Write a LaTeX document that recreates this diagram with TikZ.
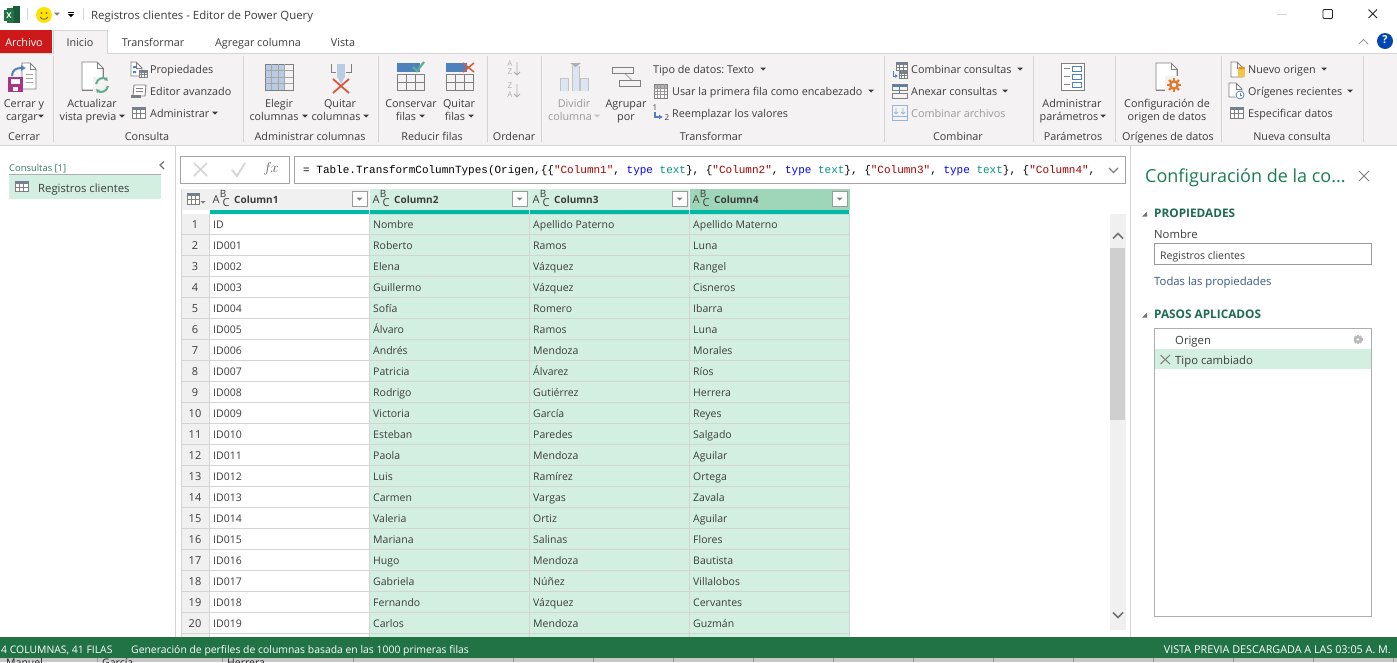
\documentclass[tikz,border=0pt]{standalone}
\usepackage{fontspec}
\usetikzlibrary{arrows.meta}
\setmainfont{Open Sans}
\newfontfamily\mono{Liberation Mono}
\AtBeginDocument{\frenchspacing}
\definecolor{rbg}{HTML}{F4F2F3}
\definecolor{rline}{HTML}{D4D4D4}
\definecolor{txt}{HTML}{3C3C3C}
\definecolor{gtxt}{HTML}{9A9A9A}
\definecolor{sel}{HTML}{D3EFE1}
\definecolor{hdr}{HTML}{F0F0F0}
\definecolor{hdrsel}{HTML}{9FD5B8}
\definecolor{teal}{HTML}{00B8A3}
\definecolor{xlgreen}{HTML}{217346}
\definecolor{icog}{HTML}{7F7F7F}
\definecolor{icob}{HTML}{4F81BD}
\definecolor{icolb}{HTML}{B8CCE4}
\definecolor{icor}{HTML}{D9573C}
\definecolor{orng}{HTML}{E07B2E}
\definecolor{headg}{HTML}{1E6B52}
\definecolor{refr}{HTML}{5FAE8E}
\tikzset{
 x=1pt,y=-1pt,
 tl/.style={anchor=mid west,inner sep=0pt,yshift=-1.5pt,text=txt,font=\fontsize{10.8}{12}\selectfont},
 tc/.style={anchor=mid,inner sep=0pt,yshift=-1.5pt,text=txt,font=\fontsize{10.8}{12}\selectfont},
 rib/.style={tc},
 ribg/.style={tc,text=gtxt},
 pane/.style={tl,font=\fontsize{11.3}{13}\selectfont},
 cell/.style={anchor=mid west,inner sep=0pt,yshift=-1.5pt,text=txt,font=\fontsize{10.5}{12}\selectfont},
 stat/.style={anchor=mid west,inner sep=0pt,yshift=-1.5pt,text=white,font=\fontsize{10.4}{12}\selectfont},
 icoline/.style={draw=icog,line width=0.9pt},
}
% small drop-down triangle
\newcommand\ddn[3][txt]{\fill[#1] (#2-3,#3-1.5) -- (#2+3,#3-1.5) -- (#2,#3+1.5) -- cycle;}
% page with folded corner: x y w h
\newcommand\docic[4]{\draw[icoline,fill=white,line join=miter] (#1,#2) -- (#1+#3-6,#2) -- (#1+#3,#2+6) -- (#1+#3,#2+#4) -- (#1,#2+#4) -- cycle; \draw[icoline] (#1+#3-6,#2) -- (#1+#3-6,#2+6) -- (#1+#3,#2+6);}
% small table: x y w h
\newcommand\tabic[4]{\fill[white] (#1,#2) rectangle (#1+#3,#2+#4);
 \draw[icoline,line width=0.7pt] (#1,#2) rectangle (#1+#3,#2+#4);
 \fill[icog!70!icob] (#1,#2) rectangle (#1+#3,#2+3);
 \draw[icoline,line width=0.5pt] (#1+#3/3,#2) -- (#1+#3/3,#2+#4) (#1+2*#3/3,#2) -- (#1+2*#3/3,#2+#4) (#1,#2+#4/2+1) -- (#1+#3,#2+#4/2+1);}
% gear: x y r colour
\newcommand\gearic[5][white]{\foreach \aa in {0,45,...,315}{\draw[#5,line width=2.4pt] (#2,#3) -- ++(\aa:#4);}
 \fill[#5] (#2,#3) circle (#4*0.72); \fill[#1] (#2,#3) circle (#4*0.32);}
% abc type icon
\newcommand\abcic[1]{\node[anchor=mid,inner sep=0pt,text=txt,font=\fontsize{11}{11}\selectfont] at (#1+4,201) {A};
 \node[anchor=mid,inner sep=0pt,text=txt,font=\fontsize{10}{10}\selectfont] at (#1+11,195) {B};
 \node[anchor=mid,inner sep=0pt,text=txt,font=\fontsize{11}{11}\selectfont] at (#1+14,203.5) {C};}
\begin{document}
\begin{tikzpicture}
\useasboundingbox (0,0) rectangle (1397,662);
\fill[white] (0,0) rectangle (1397,662);

% ---------- title bar
\fill[xlgreen] (7,8) rectangle (20,23);
\fill[xlgreen!80!black] (13,6) rectangle (20,23);
\fill[xlgreen] (4,10) rectangle (14,21);
\node[anchor=mid,inner sep=0pt,text=white,font=\fontsize{8}{9}\bfseries\selectfont] at (9,15.5) {X};
\draw[rline] (27,8) -- (27,20) (83,8) -- (83,20);
\fill[yellow!85!orange] (44,15) circle (8);
\fill[black!70] (41.5,13) circle (0.9) (46.5,13) circle (0.9);
\draw[black!70,line width=0.7pt] (40,17) .. controls (42,20) and (46,20) .. (48,17);
\ddn[icog]{57}{14}
\fill[black] (68,14) -- (74,14) -- (71,17) -- cycle;
\draw[black,line width=0.8pt] (68,12) -- (74,12);
\node[tl,font=\fontsize{11.4}{13}\selectfont] (title) at (91,15) {Registros clientes - Editor de Power Query};
\draw[rline,line width=0.8pt] (1277,14) -- (1287,14);
\draw[black!85,line width=0.9pt,rounded corners=1pt] (1323,9.5) rectangle (1332.5,18.5);
\draw[black!85,line width=0.9pt] (1368.5,9.5) -- (1377,18) (1377,9.5) -- (1368.5,18);
\draw[gtxt,line width=0.9pt] (1359,44) -- (1363.5,39.5) -- (1368,44);
\fill[blue!60!cyan!70!black] (1385,41) circle (8);
\node[anchor=mid,inner sep=0pt,text=white,font=\fontsize{11}{12}\bfseries\selectfont] at (1385,41) {?};

% ---------- tabs
\fill[rbg] (0,53) rectangle (1397,145);
\draw[rline] (0,53.5) -- (1397,53.5);
\draw[rline] (0,145.5) -- (1397,145.5);
\fill[red!78!black!90] (0,30) rectangle (52,53);
\draw[rline,fill=rbg] (53,54) -- (53,30.5) -- (107.5,30.5) -- (107.5,54);
\fill[rbg] (53.5,52) rectangle (107,55);
\node[tc,text=white] (archivo) at (24,42) {Archivo};
\node[tc] at (80,42) {Inicio};
\node[tc] at (153,42) {Transformar};
\node[tc] at (258,42) {Agregar columna};
\node[tc] at (343,42) {Vista};

% group separators
\foreach \sx in {53,243,378,487,541,884,1033,1115,1221,1363}{\draw[rline] (\sx.5,56) -- (\sx.5,142);}

% ---------- ribbon text
\node[rib] at (24,103) {Cerrar y}; \node[rib] at (22,116) {cargar}; \ddn{41}{116}
\node[rib] at (24,136) {Cerrar};
\node[rib] at (92,103) {Actualizar}; \node[rib] at (88,116) {vista previa}; \ddn{122}{116}
\node[tl] at (150,69) {Propiedades};
\node[tl] at (150,91) {Editor avanzado};
\node[tl] at (150,113) {Administrar}; \ddn{215}{113}
\node[rib] at (147,136) {Consulta};
\node[rib] at (279,103) {Elegir}; \node[rib] at (274,116) {columnas}; \ddn{305}{116}
\node[rib] at (340,103) {Quitar}; \node[rib] at (336,116) {columnas}; \ddn{366}{116}
\node[rib] at (310,136) {Administrar columnas};
\node[rib] at (411,103) {Conservar}; \node[rib] at (406,116) {filas}; \ddn{422}{116}
\node[rib] at (459,103) {Quitar}; \node[rib] at (455,116) {filas}; \ddn{471}{116}
\node[rib] at (432,136) {Reducir filas};
\node[rib] at (514,136) {Ordenar};
\node[ribg] at (574,103) {Dividir}; \node[ribg] at (570,116) {columna}; \ddn[gtxt!60]{597}{116}
\node[rib] at (626,103) {Agrupar}; \node[rib] at (626,116) {por};
\node[tl] at (653,69) {Tipo de datos: Texto}; \ddn{763}{69}
\node[tl] at (672,91) {Usar la primera fila como encabezado}; \ddn{871}{91}
\node[tl] at (672,113) {Reemplazar los valores};
\node[rib] at (711,136) {Transformar};
\node[tl] at (911,69) {Combinar consultas}; \ddn{1020}{69}
\node[tl] at (911,91) {Anexar consultas}; \ddn{1005}{91}
\node[tl,text=gtxt] at (911,113) {Combinar archivos};
\node[rib] at (958,136) {Combinar};
\node[rib] at (1072,103) {Administrar}; \node[rib] at (1069,116) {parámetros}; \ddn{1103}{116}
\node[rib] at (1073,136) {Parámetros};
\node[rib] at (1167,103) {Configuración de}; \node[rib] at (1167,116) {origen de datos};
\node[rib] at (1168,136) {Orígenes de datos};
\node[tl] at (1248,69) {Nuevo origen}; \ddn{1324}{69}
\node[tl] at (1248,91) {Orígenes recientes}; \ddn{1350}{91}
\node[tl] at (1248,113) {Especificar datos};
\node[rib] at (1292,136) {Nueva consulta};

% ---------- ribbon icons
% cerrar y cargar
\docic{22}{63}{14}{26}
\draw[icog!70,line width=0.6pt] (26,74) -- (33,74) (26,78) -- (33,78) (26,82) -- (33,82);
\draw[-{Latex[length=5pt,width=7pt]},icob,line width=2pt] (12,76) .. controls (12,70) and (16,68) .. (26,68);
\fill[violet!60!purple!80] (8,77) rectangle (23,92);
\fill[white] (11,79) rectangle (20,84);
\fill[white] (13,87) rectangle (18,91);
% actualizar
\docic{82}{62}{21}{28}
\fill[rbg] (93,77) rectangle (110,93);
\draw[icog,line width=0.9pt] (82,90) -- (93,90) (103,68) -- (103,77);
\draw[-{Latex[length=3.5pt,width=5pt]},refr,line width=2pt] (96,84) .. controls (97,78) and (104,77) .. (108,81);
\draw[-{Latex[length=3.5pt,width=5pt]},refr,line width=2pt] (108,86) .. controls (107,92) and (100,93) .. (96,89);
% propiedades
\docic{131}{62}{11}{14}
\fill[icob] (133,66) rectangle (136,68) (133,71) rectangle (136,73);
\tabic{139}{70}{8}{7}
% editor
\draw[icoline,fill=white] (134,85) -- (146,85) -- (145,96) -- (133,96) -- cycle;
\draw[icog,line width=0.5pt] (136,88) -- (143,88) (136,91) -- (143,91);
\fill[icog] (131,95) rectangle (141,98);
% administrar
\tabic{132}{107}{13}{11}
% elegir columnas
\fill[icolb] (265,64) rectangle (284,90);
\draw[icog,line width=0.8pt] (265,64) rectangle (293,90);
\foreach \gx in {271.5,278,284.5}{\draw[icog!70,line width=0.5pt] (\gx,64) -- (\gx,90);}
\foreach \gy in {70.5,77,83.5}{\draw[icog!70,line width=0.5pt] (265,\gy) -- (293,\gy);}
% quitar columnas
\draw[icog,line width=0.8pt] (331,64) -- (331,72) -- (336,72);
\draw[icog,line width=0.8pt] (351,64) -- (351,72) -- (346,72);
\fill[icolb] (337,64) rectangle (345,78);
\fill[icolb] (337,76) -- (345,76) -- (341,84) -- cycle;
\draw[icor,line width=1.8pt] (333,79) -- (349,93) (349,79) -- (333,93);
% conservar filas
\fill[icob] (397,63) rectangle (420,72);
\draw[icog,line width=0.8pt] (397.5,74) rectangle (424.5,90.5);
\draw[icog,line width=0.7pt] (406.5,74) -- (406.5,90.5) (415.5,74) -- (415.5,90.5) (397.5,82) -- (424.5,82);
\draw[refr,line width=2.2pt] (413,67) -- (417,71) -- (424,62);
% quitar filas
\fill[icob] (446,63) rectangle (467,72);
\draw[icog,line width=0.8pt] (446.5,74) rectangle (473.5,90.5);
\draw[icog,line width=0.7pt] (455.5,74) -- (455.5,90.5) (464.5,74) -- (464.5,90.5) (446.5,82) -- (473.5,82);
\draw[icor,line width=1.5pt] (463,63) -- (474,72) (474,63) -- (463,72);
% sort icons
\node[anchor=mid,inner sep=0pt,text=gtxt!80,font=\fontsize{8}{8}\selectfont] at (510,64) {A};
\node[anchor=mid,inner sep=0pt,text=gtxt!80,font=\fontsize{8}{8}\selectfont] at (510,72) {Z};
\draw[gtxt!80,line width=0.8pt] (517,62) -- (517,75) (514,72) -- (517,75) -- (520,72);
\node[anchor=mid,inner sep=0pt,text=gtxt!80,font=\fontsize{8}{8}\selectfont] at (510,86) {Z};
\node[anchor=mid,inner sep=0pt,text=gtxt!80,font=\fontsize{8}{8}\selectfont] at (510,95) {A};
\draw[gtxt!80,line width=0.8pt] (517,84) -- (517,97) (514,94) -- (517,97) -- (520,94);
% dividir columna
\fill[icolb!50] (560,79) rectangle (568,91) (580,79) rectangle (588,91) (572,64) rectangle (579,91);
\draw[gtxt!60,line width=0.6pt] (560,91) -- (560,78) -- (568,78) -- (568,91) (580,91) -- (580,78) -- (588,78) -- (588,91) (572,66) -- (572,91) (579,66) -- (579,91);
\fill[gtxt!80] (570,63) -- (581,63) -- (575.5,67) -- cycle;
% agrupar
\draw[icog,line width=0.8pt] (612.5,67.5) rectangle (633,73.5);
\draw[icog,line width=0.8pt] (619.5,80.5) rectangle (640,86.5);
\draw[icog,line width=0.7pt] (625,73.5) -- (632,80.5);
% usar primera fila
\fill[white] (654,84) rectangle (667,98);
\fill[icog!60] (654,84) rectangle (667,88);
\draw[icog,line width=0.7pt] (654,84) rectangle (667,98);
\foreach \gx in {657.3,660.5,663.8}{\draw[icog!80,line width=0.4pt] (\gx,84) -- (\gx,98);}
\foreach \gy in {88,91.3,94.6}{\draw[icog!80,line width=0.4pt] (654,\gy) -- (667,\gy);}
% reemplazar
\node[anchor=mid,inner sep=0pt,text=txt,font=\fontsize{8}{8}\selectfont] at (655,108) {1};
\node[anchor=mid,inner sep=0pt,text=txt,font=\fontsize{8}{8}\selectfont] at (667,118) {2};
\draw[-{Latex[length=4pt,width=5pt]},icob,line width=1.2pt] (655,112) -- (655,117) -- (663,117);
% combinar consultas
\tabic{896}{62}{11}{8}
\tabic{899}{71}{8}{7}
\draw[-{Latex[length=3pt,width=4pt]},icob,line width=1pt] (893,71) -- (893,76) -- (898,76);
% anexar
\fill[icob] (892,84) rectangle (907,87);
\draw[icog,line width=0.7pt] (892,84) rectangle (907,90) (892,93) rectangle (907,98);
\draw[icob,line width=0.9pt] (899.5,87) -- (899.5,94);
% combinar archivos
\draw[icob!60,line width=0.8pt] (892.5,105.5) rectangle (907,120);
\draw[icob!60,line width=0.7pt] (892.5,116) -- (907,116);
\draw[icob!60,line width=0.7pt] (896,108) -- (896,114) (903,108) -- (903,114) (894,112) -- (896,114) -- (898,112) (901,112) -- (903,114) -- (905,112);
% parametros
\draw[icog,line width=0.8pt,fill=white] (1061.5,63.5) rectangle (1084,90.5);
\foreach \py in {66,74,82}{\draw[icob,line width=0.8pt] (1072,\py) rectangle (1081,\py+5);\draw[icog,line width=0.7pt] (1064,\py+2.5) -- (1070,\py+2.5);}
% config origen
\docic{1156}{63}{21}{27}
\fill[rbg] (1165,76) rectangle (1184,94);
\draw[icog,line width=0.9pt] (1156,90) -- (1165,90) (1177,69) -- (1177,76);
\gearic[rbg]{1174}{85}{7}{orng}
% nuevo origen
\docic{1231}{62}{12}{15}
\fill[orng!55!yellow!80] (1238,68) rectangle (1245,77);
\fill[orng!80!yellow] (1241.5,68) ellipse (3.5 and 1.5);
% recientes
\docic{1229}{83}{13}{14}
\fill[white] (1240,95) circle (5);
\draw[icob,line width=0.8pt] (1240,95) circle (4);
\draw[icob,line width=0.6pt] (1240,92.5) -- (1240,95) -- (1242,95);
% especificar
\tabic{1230}{107}{13}{11}

% ---------- panes
\draw[rline,line width=0.9pt] (175.5,146) -- (175.5,637);
\draw[rline,line width=0.9pt] (1130.5,146) -- (1130.5,637);
% queries pane
\node[tl,text=headg!90,font=\fontsize{9.4}{11}\selectfont] (cons) at (9,167) {Consultas [1]};
\draw[gtxt!80] (9,174.5) -- (161,174.5);
\fill[sel] (9,175) rectangle (161,199);
\draw[icog!90!black,line width=1.2pt] (164,161.5) -- (160,165) -- (164,169);
\tabic{15}{181}{13}{10}
\node[pane] (q1) at (38,188) {Registros clientes};

% formula bar
\draw[gtxt!90,line width=0.8pt] (180.5,156.5) rectangle (289.5,183.5);
\draw[gtxt!90,line width=0.8pt] (294.5,156.5) rectangle (1125.5,183.5);
\draw[rline,line width=1.6pt] (194,163) -- (207,176) (207,163) -- (194,176);
\draw[rline,line width=1.8pt] (232,170) -- (237,176) -- (245,163);
\node[anchor=mid,inner sep=0pt,text=icog!80!black,font=\fontsize{14}{14}\selectfont] at (271,170) {$f$\kern-1pt$x$};
\node[anchor=mid west,inner sep=0pt,font=\mono\fontsize{11}{13}\selectfont] (formula) at (303,171) {%
= Table.TransformColumnTypes(Origen,\{\{\textcolor{red!65!black}{"Column1"}, \textcolor{blue}{type} \textcolor{teal!80!black}{text}\}, \{\textcolor{red!65!black}{"Column2"}, \textcolor{blue}{type} \textcolor{teal!80!black}{text}\}, \{\textcolor{red!65!black}{"Column3"}, \textcolor{blue}{type} \textcolor{teal!80!black}{text}\}, \{\textcolor{red!65!black}{"Column4"},};
\draw[icog,line width=1.2pt] (1109,168) -- (1113.5,172.5) -- (1118,168);

% ---------- table
\fill[hdr] (181,189) rectangle (209,637);
\fill[hdr] (181,189) rectangle (369,210);
\fill[sel] (370,189) rectangle (689,210);
\fill[hdrsel] (690,189) rectangle (850,210);
\fill[white] (181,210) rectangle (209,214);
\fill[sel] (370,214) rectangle (850,637);
\fill[white] (210,214) rectangle (369,637);
\fill[teal] (210,210) rectangle (369,214) (370,210) rectangle (529,214) (530,210) rectangle (689,214) (690,210) rectangle (849,214);
\foreach \gx in {209.5,369.5,529.5,689.5,849.5}{\draw[rline,line width=0.9pt] (\gx,214) -- (\gx,637);}
\foreach \k in {0,...,19}{\draw[rline,line width=0.9pt] (181,{234.5+21*\k}) -- (850,{234.5+21*\k});}
\draw[rline,line width=0.9pt] (181,189) -- (181,637);
% column headers
\foreach \hx/\hn/\bx in {210/1/352,370/2/512,530/3/672,690/4/832}{
 \abcic{\hx+2}
 \node[tl,font=\fontsize{10}{11}\bfseries\selectfont] (col\hn) at (\hx+24,199) {Column\hn};
 \draw[gtxt,fill=white,line width=0.7pt] (\bx,191.5) rectangle (\bx+15,206.5);
 \fill[icog] (\bx+4.5,197.5) -- (\bx+10.5,197.5) -- (\bx+7.5,200.5) -- cycle;
}
% corner icon
\tabic{187}{193}{12}{11}
\fill[icog] (200.5,201) -- (205.5,201) -- (203,203.5) -- cycle;
% rows
\foreach \n/\a/\b/\c/\d in {
1/ID/Nombre/Apellido Paterno/Apellido Materno,
2/ID001/Roberto/Ramos/Luna,
3/ID002/Elena/Vázquez/Rangel,
4/ID003/Guillermo/Vázquez/Cisneros,
5/ID004/Sofía/Romero/Ibarra,
6/ID005/Álvaro/Ramos/Luna,
7/ID006/Andrés/Mendoza/Morales,
8/ID007/Patricia/Álvarez/Ríos,
9/ID008/Rodrigo/Gutiérrez/Herrera,
10/ID009/Victoria/García/Reyes,
11/ID010/Esteban/Paredes/Salgado,
12/ID011/Paola/Mendoza/Aguilar,
13/ID012/Luis/Ramírez/Ortega,
14/ID013/Carmen/Vargas/Zavala,
15/ID014/Valeria/Ortiz/Aguilar,
16/ID015/Mariana/Salinas/Flores,
17/ID016/Hugo/Mendoza/Bautista,
18/ID017/Gabriela/Núñez/Villalobos,
19/ID018/Fernando/Vázquez/Cervantes,
20/ID019/Carlos/Mendoza/Guzmán}{
 \node[anchor=mid,inner sep=0pt,yshift=-1.5pt,text=txt,font=\fontsize{11}{12}\selectfont] at (195,{203.5+21*\n}) {\n};
 \node[cell] at (213,{203.5+21*\n}) {\a};
 \node[cell] at (373,{203.5+21*\n}) {\b};
 \node[cell] at (533,{203.5+21*\n}) {\c};
 \node[cell] at (693,{203.5+21*\n}) {\d};
}
% scroll bar
\fill[hdr] (1110,214) rectangle (1126,630);
\fill[black!19] (1110,248) rectangle (1125,420);
\draw[icog!90!black,line width=1.6pt] (1113,238.5) -- (1118,233.5) -- (1123,238.5);
\draw[icog!90!black,line width=1.6pt] (1113,612.5) -- (1118,617.5) -- (1123,612.5);

% ---------- settings pane
\node[tl,text=xlgreen!85!teal,font=\fontsize{18}{20}\selectfont] (cfg) at (1145,178) {Configuración de la co...};
\draw[icog,line width=0.9pt] (1359,171) -- (1369,181) (1369,171) -- (1359,181);
\fill[icog!90!black] (1142,216.5) -- (1147,216.5) -- (1147,211.5) -- cycle;
\node[tl,text=headg,font=\fontsize{11.8}{13}\bfseries\selectfont] (prop) at (1154,213) {PROPIEDADES};
\node[pane] (nom) at (1154,234) {Nombre};
\draw[gtxt,line width=0.8pt,fill=white] (1154.5,243.5) rectangle (1371.5,264.5);
\node[cell] (regn) at (1160,255) {Registros clientes};
\node[pane,text=icob!70!black] (todas) at (1154,281) {Todas las propiedades};
\fill[icog!90!black] (1142,317.5) -- (1147,317.5) -- (1147,312.5) -- cycle;
\node[tl,text=headg,font=\fontsize{11.8}{13}\bfseries\selectfont] (pasos) at (1154,314) {PASOS APLICADOS};
\draw[gtxt!80,line width=0.8pt,fill=white] (1154.5,328.5) rectangle (1371.5,616.5);
\fill[sel] (1155,349) rectangle (1371,369);
\node[pane] (orig) at (1175,340) {Origen};
\node[pane] (tipo) at (1175,360) {Tipo cambiado};
\gearic{1358}{339.5}{4.5}{gtxt!70}
\draw[icog,line width=1pt] (1160.5,355) -- (1170,364) (1170,355) -- (1160.5,364);

% ---------- bottom of the window behind the status bar
\fill[black!22] (0,658) rectangle (1397,662);
\begin{scope}
\clip (0,658) rectangle (1397,662);
\node[cell,text=black!85] at (6,662.5) {Manuel};
\node[cell,text=black!85] at (102,662.5) {García};
\node[cell,text=black!85] at (227,662.5) {Herrera};
\foreach \gx in {97,222,353,513,593,673,753,833,913,993,1073,1153,1233,1313,1393}{\draw[black!40] (\gx,658) -- (\gx,662);}
\end{scope}
% ---------- status bar
\fill[xlgreen] (0,637) rectangle (1397,658);
\node[stat] (st1) at (1,649) {4 COLUMNAS, 41 FILAS};
\node[stat] (st2) at (131,649) {Generación de perfiles de columnas basada en las 1000 primeras filas};
\node[stat,anchor=mid east,font=\fontsize{10.8}{12}\selectfont] (st3) at (1391,649) {VISTA PREVIA DESCARGADA A LAS 03:05 A. M.};
\end{tikzpicture}
\end{document}
